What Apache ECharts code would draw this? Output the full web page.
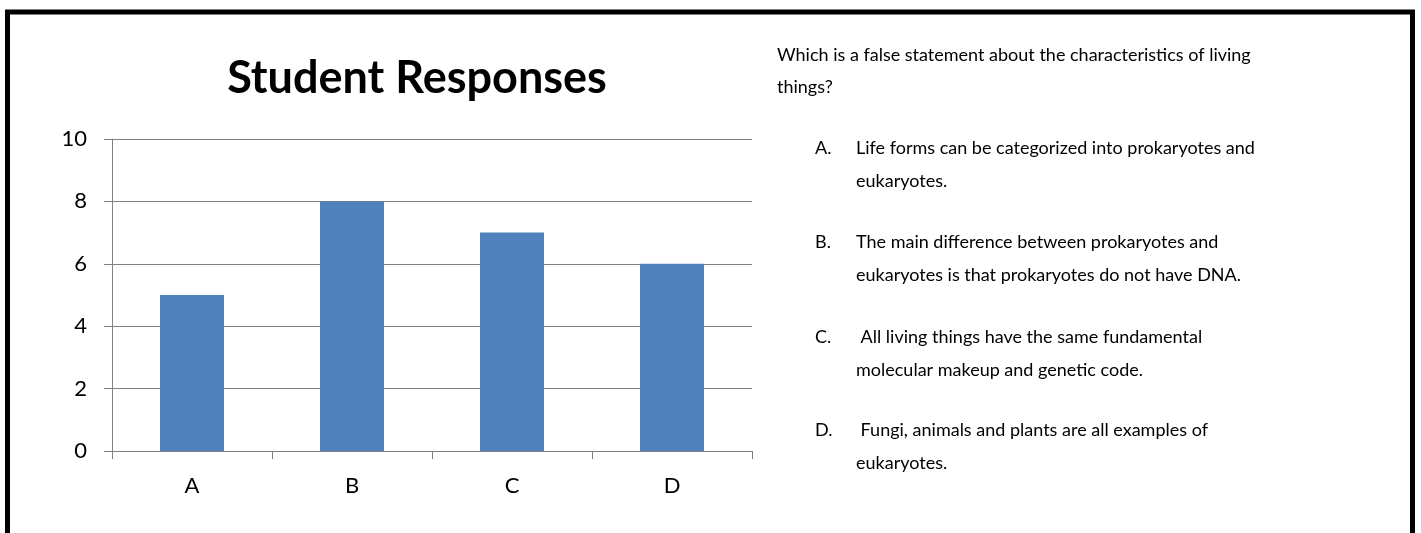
<!DOCTYPE html>
<html lang="en">
<head>
    <meta charset="UTF-8">
    <title>Student Responses</title>
    <script src="https://cdn.jsdelivr.net/npm/echarts@6/dist/echarts.min.js"></script>
    <style>
        html, body { margin: 0; padding: 0; background: #fff; }
        #main { width: 1421px; height: 533px; }
    </style>
</head>
<body>
<div id="main"></div>
<script>
    // data
    var categories = ['A', 'B', 'C', 'D'];
    var responses = [5, 8, 7, 6];
    var yTicks = [0, 2, 4, 6, 8, 10];

    var question = ['Which is a false statement about the characteristics of living', 'things?'];
    var answerLetters = ['A.', 'B.', 'C.', 'D.'];
    var answerLines = [
        ['Life forms can be categorized into prokaryotes and', 'eukaryotes.'],
        ['The main difference between prokaryotes and', 'eukaryotes is that prokaryotes do not have DNA.'],
        [' All living things have the same fundamental', 'molecular makeup and genetic code.'],
        [' Fungi, animals and plants are all examples of', 'eukaryotes.']
    ];

    var font = 'Lato, "Open Sans", sans-serif';
    var bodySize = 18;

    // frame + right-hand text block
    var graphics = [{
        type: 'polyline',
        shape: { points: [[7.5, 533], [7.5, 12], [1412.5, 12], [1412.5, 533]] },
        style: { stroke: '#000', lineWidth: 5, fill: null }
    }];
    question.forEach(function (t, i) {
        graphics.push({
            type: 'text', x: 777, y: 55 + i * 32,
            style: { text: t, font: bodySize + 'px ' + font, fill: '#000', verticalAlign: 'middle' }
        });
    });
    var rowY = [148, 242, 337, 430];
    answerLetters.forEach(function (l, i) {
        graphics.push({
            type: 'text', x: 815, y: rowY[i],
            style: { text: l, font: bodySize + 'px ' + font, fill: '#000', verticalAlign: 'middle' }
        });
        answerLines[i].forEach(function (t, j) {
            graphics.push({
                type: 'text', x: 856, y: rowY[i] + j * 33,
                style: { text: t, font: bodySize + 'px ' + font, fill: '#000', verticalAlign: 'middle' }
            });
        });
    });

    var option = {
        animation: false,
        title: {
            text: 'Student Responses',
            left: 412,
            top: 51,
            textAlign: 'center',
            textStyle: { fontFamily: font, fontWeight: 'bold', fontSize: 45, color: '#000' }
        },
        grid: { left: 112, top: 139, width: 640, height: 312 },
        xAxis: {
            type: 'category',
            data: categories,
            axisLine: { lineStyle: { color: '#808080', width: 1 } },
            axisTick: { show: true, length: 8, lineStyle: { color: '#808080' } },
            axisLabel: { color: '#000', fontFamily: font, fontSize: 22, margin: 24 }
        },
        yAxis: {
            type: 'value',
            min: yTicks[0],
            max: yTicks[yTicks.length - 1],
            interval: yTicks[1] - yTicks[0],
            axisLine: { show: true, lineStyle: { color: '#808080', width: 1 } },
            axisTick: { show: true, length: 8, lineStyle: { color: '#808080' } },
            splitLine: { lineStyle: { color: '#808080', width: 1 } },
            axisLabel: { color: '#000', fontFamily: font, fontSize: 22, margin: 25 }
        },
        series: [{
            type: 'bar',
            data: responses,
            barWidth: '40%',
            itemStyle: { color: '#4F81BD' }
        }],
        graphic: graphics
    };

    var myChart = echarts.init(document.getElementById('main'));
    myChart.setOption(option);
</script>
</body>
</html>
